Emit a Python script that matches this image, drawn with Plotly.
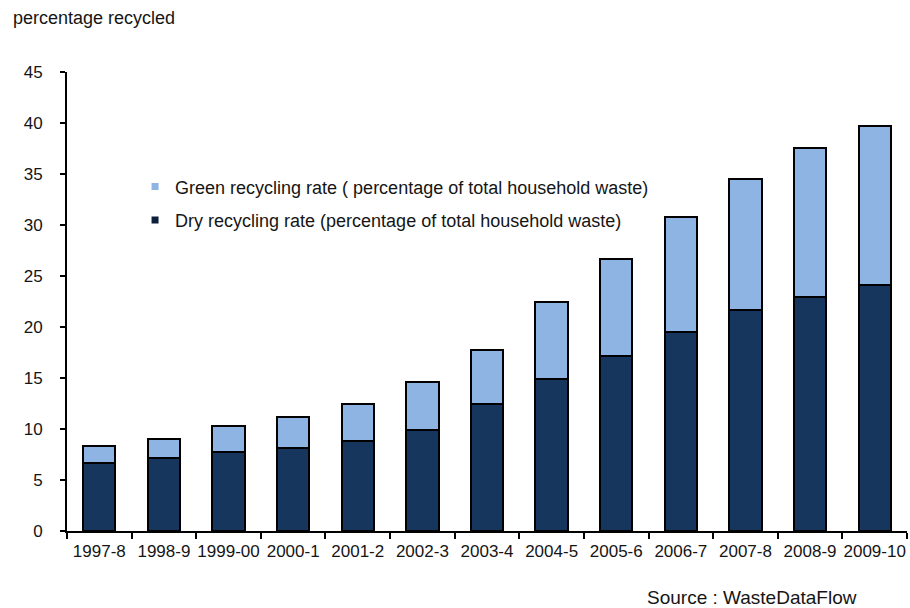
import plotly.graph_objects as go

# Financial years
years = ["1997-8", "1998-9", "1999-00", "2000-1", "2001-2", "2002-3", "2003-4",
         "2004-5", "2005-6", "2006-7", "2007-8", "2008-9", "2009-10"]

# Dry recycling rate (% of total household waste)
dry_rate = [6.7, 7.15, 7.7, 8.1, 8.8, 9.9, 12.5, 14.9, 17.2, 19.55, 21.7, 22.95, 24.1]

# Green recycling rate (% of total household waste), stacked on top of dry
green_rate = [1.6, 1.9, 2.55, 3.1, 3.65, 4.7, 5.25, 7.6, 9.5, 11.2, 12.8, 14.6, 15.6]

y_ticks = [0, 5, 10, 15, 20, 25, 30, 35, 40, 45]

FONT = "Liberation Sans, Arial, sans-serif"
TEXT = "#151515"
DARK = "#17365d"
LIGHT = "#8db4e2"
DRY_NAME = "Dry recycling rate (percentage of total household waste)"
GREEN_NAME = "Green recycling rate ( percentage of total household waste)"

fig = go.Figure()
fig.add_trace(go.Bar(
    x=years, y=dry_rate, name=DRY_NAME, showlegend=False,
    marker=dict(color=DARK, line=dict(color="#000000", width=2)),
))
fig.add_trace(go.Bar(
    x=years, y=green_rate, name=GREEN_NAME, showlegend=False,
    marker=dict(color=LIGHT, line=dict(color="#000000", width=2)),
))

# Legend keys drawn as small square markers
fig.add_trace(go.Scatter(
    x=[None], y=[None], mode="markers", name=GREEN_NAME,
    marker=dict(symbol="square", size=7, color=LIGHT),
    legendgroup="green", legendrank=1,
))
fig.add_trace(go.Scatter(
    x=[None], y=[None], mode="markers", name=DRY_NAME,
    marker=dict(symbol="square", size=7, color="#0d1f3a"),
    legendgroup="dry", legendrank=2,
))

fig.update_layout(
    barmode="stack",
    bargap=0.5,
    width=910, height=608,
    margin=dict(l=67, r=3, t=72, b=77),
    paper_bgcolor="white",
    plot_bgcolor="white",
    font=dict(family=FONT, size=17, color=TEXT),
    showlegend=True,
    legend=dict(
        x=0.081, y=0.79, xanchor="left", yanchor="top",
        bgcolor="rgba(0,0,0,0)",
        font=dict(family=FONT, size=18, color=TEXT),
        tracegroupgap=7,
        itemwidth=30,
    ),
    xaxis=dict(
        type="category",
        automargin=False,
        tickangle=0,
        showline=True, linecolor="#000000", linewidth=2,
        ticks="outside", tickson="boundaries", ticklen=6, tickwidth=2,
        tickcolor="#000000", ticklabelstandoff=4,
        tickfont=dict(family=FONT, size=17, color=TEXT),
        showgrid=False,
    ),
    yaxis=dict(
        range=[0, 45], tickvals=y_ticks,
        automargin=False,
        showline=True, linecolor="#000000", linewidth=2,
        ticks="outside", ticklen=5, tickwidth=2, tickcolor="#000000",
        ticklabelstandoff=14,
        tickfont=dict(family=FONT, size=17, color=TEXT),
        showgrid=False, zeroline=False,
    ),
    annotations=[
        dict(text="percentage recycled", xref="paper", yref="paper",
             x=-0.067, y=1.118, xanchor="left", yanchor="middle",
             showarrow=False, font=dict(family=FONT, size=18, color=TEXT)),
        dict(text="Source : WasteDataFlow", xref="paper", yref="paper",
             x=0.688, y=-0.144, xanchor="left", yanchor="middle",
             showarrow=False, font=dict(family=FONT, size=19, color=TEXT)),
    ],
)

fig.write_html("out.html")
